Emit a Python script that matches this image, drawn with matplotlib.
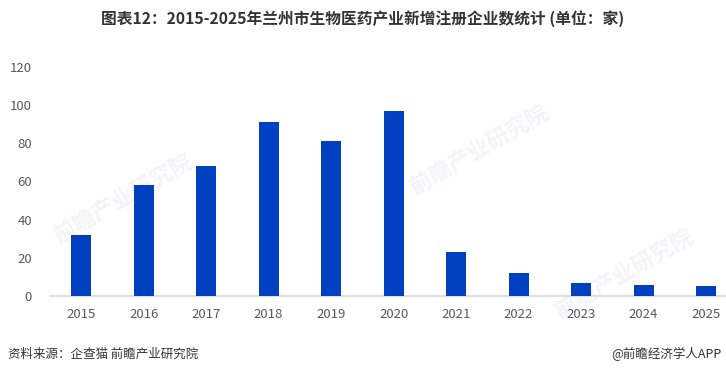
import matplotlib.pyplot as plt

plt.rcParams['font.family'] = ['Noto Sans CJK SC', 'DejaVu Sans']

years = ['2015', '2016', '2017', '2018', '2019', '2020', '2021', '2022', '2023', '2024', '2025']
counts = [32, 58, 68, 91, 81, 97, 23, 12, 7, 6, 5]

fig = plt.figure(figsize=(7.26, 3.74), dpi=100)
ax = fig.add_axes([50 / 726, 1 - 296 / 374, 676 / 726, 229 / 374])
ax.patch.set_visible(False)

x = range(len(years))
ax.bar(x, counts, width=0.32, color='#0040C1', zorder=3)

ax.set_ylim(0, 120)
ax.set_xlim(-0.5, 10.32)
ax.set_yticks(range(0, 121, 20))
ax.set_xticks(list(x))
ax.set_xticklabels(years)

for s in ['top', 'right', 'left']:
    ax.spines[s].set_visible(False)
ax.spines['bottom'].set_color('#d9d9d9')
ax.spines['bottom'].set_linewidth(1.2)
ax.tick_params(axis='both', length=0, colors='#595959', labelsize=9.5)
ax.tick_params(axis='y', pad=13)
ax.tick_params(axis='x', pad=9)

# faint watermarks, behind the bars
for wx, wy in [(0.17, 0.47), (0.66, 0.6), (0.86, 0.27)]:
    fig.text(wx, wy, '前瞻产业研究院', fontsize=16, color='#f2f4f7', rotation=30,
             ha='center', va='center', fontweight='bold', zorder=-1)

fig.text(0.5, 1 - 20 / 374, '图表12：2015-2025年兰州市生物医药产业新增注册企业数统计 (单位：家)',
         ha='center', va='center', fontsize=11.3, fontweight='bold', color='#333333')
fig.text(8 / 726, 1 - 354 / 374, '资料来源：企查猫 前瞻产业研究院', ha='left', va='center',
         fontsize=9, color='#333333')
fig.text(722 / 726, 1 - 354 / 374, '@前瞻经济学人APP', ha='right', va='center',
         fontsize=9, color='#333333')

fig.savefig('out.png', dpi=100)
